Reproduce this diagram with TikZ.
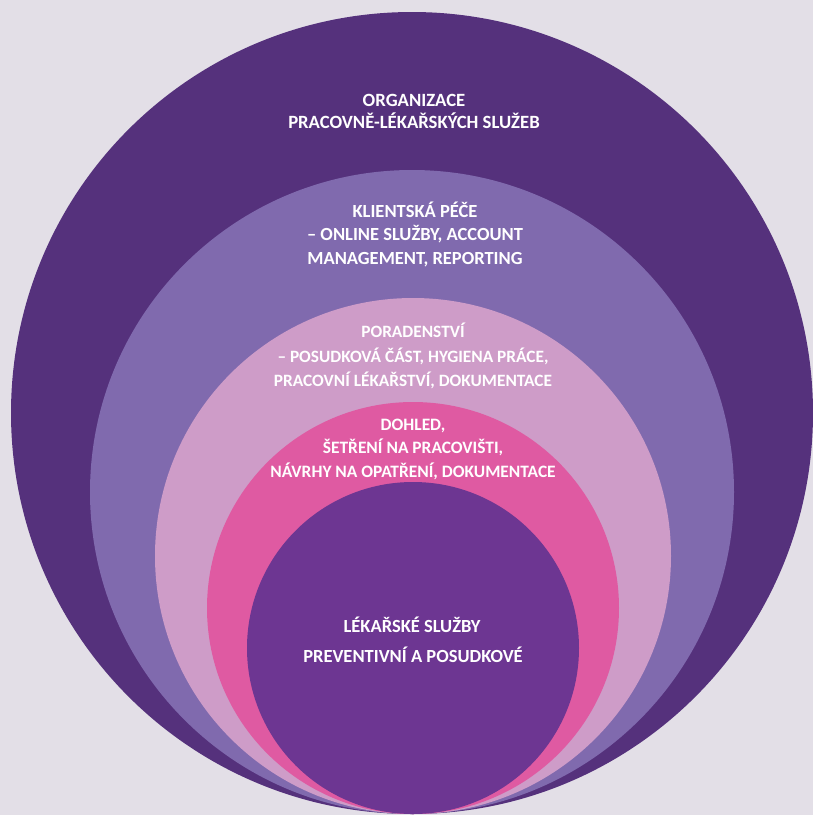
\documentclass[tikz,border=0pt]{standalone}
\usepackage{fontspec}
\setmainfont{Carlito}
\definecolor{bgc}{HTML}{E3DFE7}
\definecolor{c1}{HTML}{55317C}
\definecolor{c2}{HTML}{806AAE}
\definecolor{c3}{HTML}{CE9CC8}
\definecolor{c4}{HTML}{DF5AA2}
\definecolor{c5}{HTML}{6D3692}
\begin{document}
\begin{tikzpicture}[x=1pt,y=-1pt,
  lbl/.style={text=white,font=\bfseries\fontsize{#1}{20}\selectfont,anchor=base,inner sep=0pt},
  lbl/.default=17.4]
\useasboundingbox (0,0) rectangle (813,815);
\fill[bgc] (0,0) rectangle (813,815);
\fill[c1] (412,413) circle[radius=401pt];
\fill[c2] (412,492) circle[radius=322pt];
\fill[c3] (413,556) circle[radius=258pt];
\fill[c4] (413,608) circle[radius=206pt];
\fill[c5] (413,648) circle[radius=166pt];
\node[lbl=18.7] (o1) at (414,106) {ORGANIZACE};
\node[lbl=18.7] (o2) at (414,128) {PRACOVNĚ-LÉKAŘSKÝCH SLUŽEB};
\node[lbl=18.5] (k1) at (415,217) {KLIENTSKÁ PÉČE};
\node[lbl=18.5] (k2) at (415,240) {– ONLINE SLUŽBY, ACCOUNT};
\node[lbl=18.5] (k3) at (415,264) {MANAGEMENT, REPORTING};
\node[lbl=17.3] (p1) at (413,337) {PORADENSTVÍ};
\node[lbl=17.3] (p2) at (413,362) {– POSUDKOVÁ ČÁST, HYGIENA PRÁCE,};
\node[lbl=17.3] (p3) at (413,386) {PRACOVNÍ LÉKAŘSTVÍ, DOKUMENTACE};
\node[lbl=17.4] (d1) at (413,430) {DOHLED,};
\node[lbl=17.4] (d2) at (413,453) {ŠETŘENÍ NA PRACOVIŠTI,};
\node[lbl=17.4] (d3) at (413,477) {NÁVRHY NA OPATŘENÍ, DOKUMENTACE};
\node[lbl=18.5] (l1) at (412,632) {LÉKAŘSKÉ SLUŽBY};
\node[lbl=18.5] (l2) at (413,662) {PREVENTIVNÍ A POSUDKOVÉ};
\end{tikzpicture}
\end{document}
